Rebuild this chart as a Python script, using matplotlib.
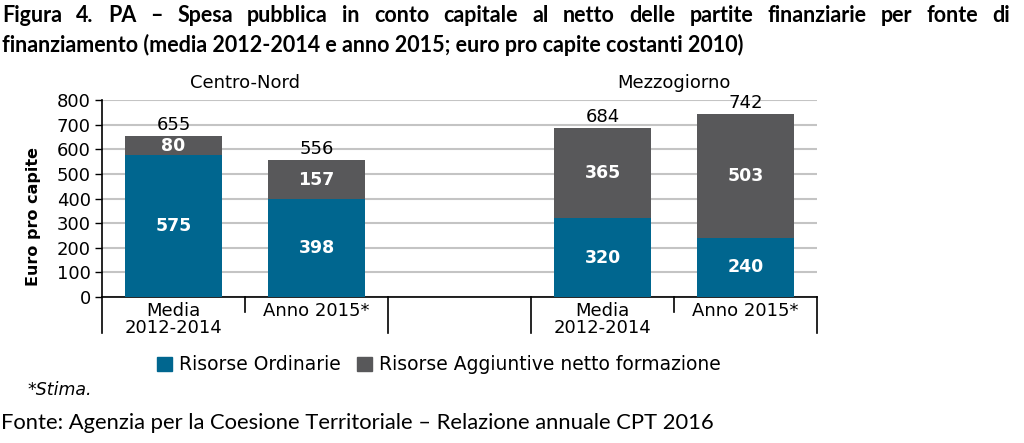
import numpy as np
import matplotlib.pyplot as plt
from matplotlib.patches import Patch

# data
groups = ['Centro-Nord', 'Mezzogiorno']
periods = ['Media\n2012-2014', 'Anno 2015*', 'Media\n2012-2014', 'Anno 2015*']
ordinarie = [575, 398, 320, 240]
aggiuntive = [80, 157, 365, 503]
totali = [655, 556, 684, 742]

BLUE = '#00668f'
GREY = '#58585a'
W, H = 1024, 443

plt.rcParams['font.family'] = ['DejaVu Sans']

fig = plt.figure(figsize=(W / 100, H / 100), dpi=100)
ax = fig.add_axes([102 / W, 1 - 297 / H, (817 - 102) / W, (297 - 100) / H])

pos = np.array([0, 1, 3, 4])
bw = 0.68
ax.bar(pos, ordinarie, bw, color=BLUE, zorder=3)
ax.bar(pos, aggiuntive, bw, bottom=ordinarie, color=GREY, zorder=3)

for x, o, a, t in zip(pos, ordinarie, aggiuntive, totali):
    ax.text(x, o / 2, str(o), ha='center', va='center', color='white',
            fontsize=12.5, fontweight='bold', zorder=4)
    ax.text(x, o + a / 2, str(a), ha='center', va='center', color='white',
            fontsize=12.5, fontweight='bold', zorder=4)
    ax.text(x, o + a + 8, str(t), ha='center', va='bottom', color='black',
            fontsize=13, zorder=4)

ax.set_xlim(-0.5, 4.5)
ax.set_ylim(0, 800)
ax.set_yticks(range(0, 801, 100))
ax.tick_params(axis='y', labelsize=13, length=5, width=1, pad=3)
ax.set_xticks([])
ax.grid(axis='y', color='#c4c4c4', linewidth=1.5, zorder=0)
for s in ['top', 'right']:
    ax.spines[s].set_visible(False)
ax.spines['left'].set_linewidth(1.2)
ax.spines['bottom'].set_linewidth(1.2)
ax.set_ylabel('Euro pro capite', fontsize=11.5, fontweight='bold')
ax.yaxis.set_label_coords(-0.085, 0.41)

# category separators under the axis
trans = ax.get_xaxis_transform()
for xs in [-0.5, 1.5, 2.5, 4.5]:
    ax.plot([xs, xs], [0, -0.185], color='black', lw=1.2, transform=trans, clip_on=False)
for xs in [0.5, 3.5]:
    ax.plot([xs, xs], [0, -0.075], color='black', lw=1.2, transform=trans, clip_on=False)

for x, lab in zip(pos, periods):
    ax.text(x, -0.025, lab, ha='center', va='top', fontsize=13,
            linespacing=0.92, transform=trans)

for x, g in zip([0.5, 3.5], groups):
    ax.text(x, 1.085, g, ha='center', va='center', fontsize=13, transform=trans)

# legend
handles = [Patch(color=BLUE, label='Risorse Ordinarie'),
           Patch(color=GREY, label='Risorse Aggiuntive netto formazione')]
fig.legend(handles=handles, ncol=2, frameon=False, loc='center left',
           bbox_to_anchor=(157 / W, 1 - 365 / H), fontsize=13.5,
           handlelength=0.8, handleheight=0.8, handletextpad=0.35,
           columnspacing=0.9, borderaxespad=0, borderpad=0)

fig.text(27 / W, 1 - 390 / H, '*Stima.', fontsize=12.5, style='italic', va='center')
fig.text(1 / W, 1 - 423 / H, 'Fonte: Agenzia per la Coesione Territoriale \u2013 Relazione annuale CPT 2016',
         fontsize=15.8, family='Lato', va='center')

# title, first line justified across the width
line1 = 'Figura 4. PA \u2013 Spesa pubblica in conto capitale al netto delle partite finanziarie per fonte di'
line2 = 'finanziamento (media 2012-2014 e anno 2015; euro pro capite costanti 2010)'
tfont = dict(fontsize=15.5, family='Lato', fontweight='bold', va='center')
words = line1.split(' ')
renderer = fig.canvas.get_renderer()
txts = [fig.text(0, 1 - 15 / H, w, **tfont) for w in words]
widths = [t.get_window_extent(renderer).width for t in txts]
x0, x1 = 2, 1010
gap = (x1 - x0 - sum(widths)) / (len(words) - 1)
x = x0
for t, w in zip(txts, widths):
    t.set_x(x / W)
    x += w + gap
fig.text(2 / W, 1 - 45 / H, line2, **tfont)

fig.savefig('out.png', dpi=100)
